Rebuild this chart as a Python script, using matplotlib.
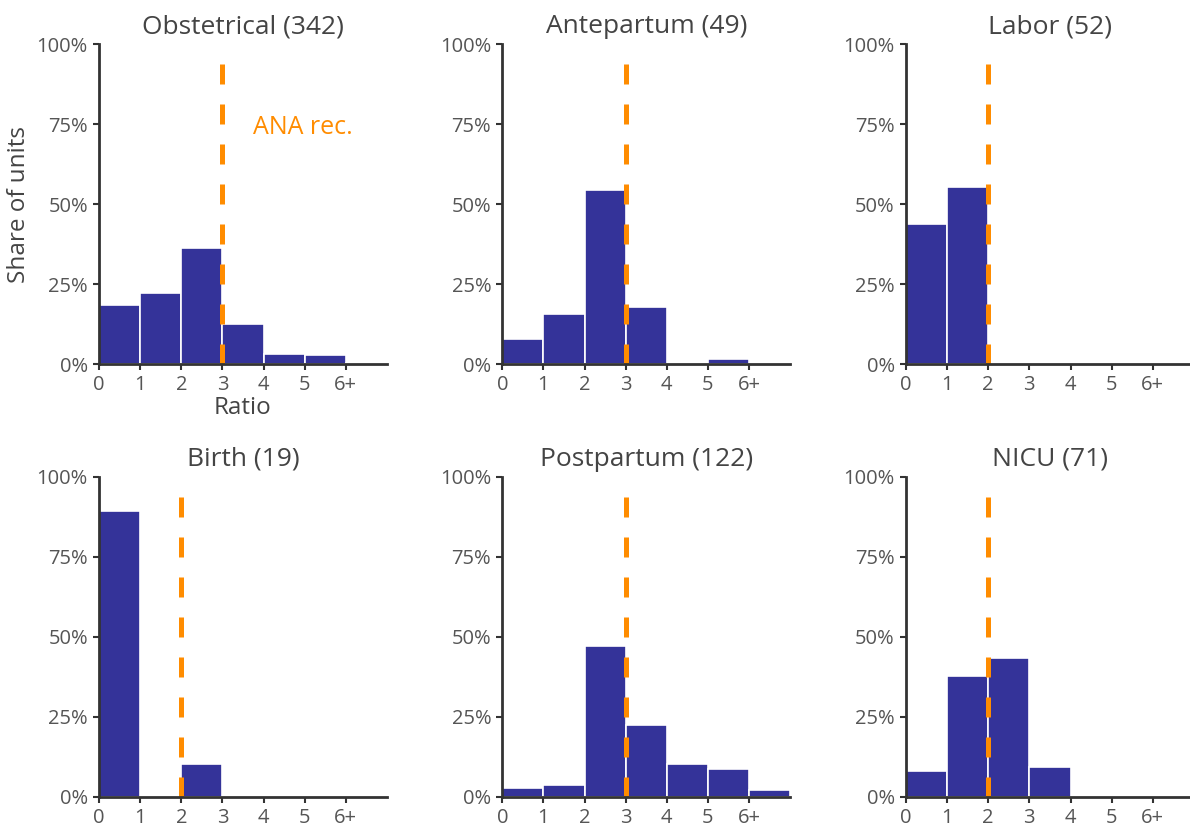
import numpy as np
import matplotlib
matplotlib.use("Agg")
import matplotlib.pyplot as plt
from matplotlib.ticker import PercentFormatter

plt.rcParams['font.family'] = ['Open Sans', 'DejaVu Sans']

# share of units per ratio bin (0-1, 1-2, ..., 5-6, 6+)
bin_edges = [0, 1, 2, 3, 4, 5, 6]
tick_labels = ["0", "1", "2", "3", "4", "5", "6+"]

units = ["Obstetrical", "Antepartum", "Labor", "Birth", "Postpartum", "NICU"]
counts = [342, 49, 52, 19, 122, 71]
ana_rec = [3, 3, 2, 2, 3, 2]

obstetrical = [0.184, 0.222, 0.362, 0.126, 0.032, 0.029, 0.003]
antepartum = [0.078, 0.158, 0.546, 0.179, 0.0, 0.016, 0.0]
labor = [0.437, 0.553, 0.0, 0.0, 0.0, 0.0, 0.0]
birth = [0.892, 0.0, 0.102, 0.0, 0.0, 0.0, 0.0]
postpartum = [0.028, 0.037, 0.471, 0.224, 0.102, 0.086, 0.020]
nicu = [0.080, 0.376, 0.432, 0.094, 0.0, 0.0, 0.0]
shares = [obstetrical, antepartum, labor, birth, postpartum, nicu]

bar_color = "#343399"
line_color = "#FF8C00"
text_color = "#444444"
tick_color = "#555555"
spine_color = "#333333"

fig = plt.figure(figsize=(11.9, 8.3), dpi=100)

lefts = [0.0832, 0.4221, 0.7613]
bottoms = [0.5611, 0.0401]
w, h = 0.2420, 0.3855

for i, name in enumerate(units):
    ax = fig.add_axes([lefts[i % 3], bottoms[i // 3], w, h])
    vals = shares[i]
    ax.bar(np.arange(len(vals)), vals, width=1, align="edge",
           color=bar_color, edgecolor="white", linewidth=1.2, zorder=1)
    ax.axvline(ana_rec[i], ymin=0, ymax=1, color=line_color, lw=3.6,
               dashes=(4, 4), zorder=3)
    ax.set_xlim(0, 7)
    ax.set_ylim(0, 1)
    ax.set_xticks(bin_edges)
    ax.set_xticklabels(tick_labels)
    ax.set_yticks([0, 0.25, 0.5, 0.75, 1.0])
    ax.yaxis.set_major_formatter(PercentFormatter(1.0, decimals=0))
    for s in ["top", "right"]:
        ax.spines[s].set_visible(False)
    for s in ["left", "bottom"]:
        ax.spines[s].set_color(spine_color)
        ax.spines[s].set_linewidth(2)
        ax.spines[s].set_zorder(4)
    ax.tick_params(length=4, width=1.5, color=spine_color, labelcolor=tick_color,
                   labelsize=14.5, pad=4)
    ax.set_title(f"{name} ({counts[i]})", fontsize=19, color=text_color, pad=8)
    if i == 0:
        ax.set_ylabel("Share of units", fontsize=17.5, color=text_color)
        ax.yaxis.set_label_coords(-0.235, 0.5)
        ax.set_xlabel("Ratio", fontsize=17.5, color=text_color)
        ax.xaxis.set_label_coords(0.5, -0.1)
        ax.text(3.75, 0.74, "ANA rec.", color=line_color, fontsize=18,
                va="center", ha="left")

fig.savefig("out.png", dpi=100)
